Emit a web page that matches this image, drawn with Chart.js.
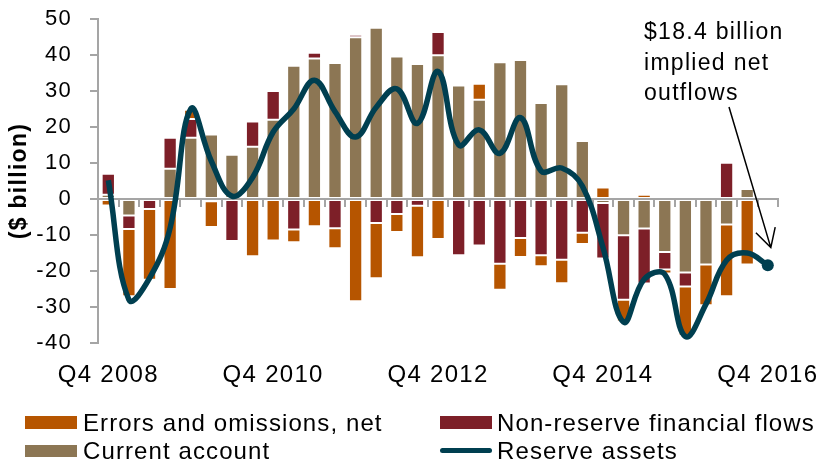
<!DOCTYPE html>
<html>
<head>
<meta charset="utf-8">
<script src="https://cdn.jsdelivr.net/npm/chart.js@4.4.1/dist/chart.umd.min.js"></script>
<style>
	body { margin: 0; background: #fff; }
	#wrap { position: relative; width: 829px; height: 463px; font-family: "Liberation Sans", Arial, sans-serif; }
	#chart { position: absolute; left: 0; top: 0; }
	.key { position: absolute; font-size: 24px; line-height: 1; letter-spacing: 1.1px; color: #000; white-space: nowrap; }
	.sw { position: absolute; }
</style>
</head>
<body>
<div id="wrap">
	<canvas id="chart" width="829" height="463"></canvas>
	<div class="sw" style="left:25px;top:416px;width:52px;height:13px;background:#B65500"></div>
	<div class="key" style="left:83px;top:411px">Errors and omissions, net</div>
	<div class="sw" style="left:440px;top:416px;width:52px;height:13px;background:#7D1F28"></div>
	<div class="key" style="left:497px;top:411px">Non-reserve financial flows</div>
	<div class="sw" style="left:25px;top:445px;width:52px;height:12px;background:#8C7654"></div>
	<div class="key" style="left:83px;top:439px">Current account</div>
	<div class="sw" style="left:440px;top:448px;width:52px;height:5px;border-radius:3px;background:#003F50"></div>
	<div class="key" style="left:497px;top:439px">Reserve assets</div>
</div>
<script>
// DATA ($ billion, quarterly)
const quarters = [
	"Q4 2008", "Q1 2009", "Q2 2009", "Q3 2009", "Q4 2009", "Q1 2010", "Q2 2010", "Q3 2010",
	"Q4 2010", "Q1 2011", "Q2 2011", "Q3 2011", "Q4 2011", "Q1 2012", "Q2 2012", "Q3 2012",
	"Q4 2012", "Q1 2013", "Q2 2013", "Q3 2013", "Q4 2013", "Q1 2014", "Q2 2014", "Q3 2014",
	"Q4 2014", "Q1 2015", "Q2 2015", "Q3 2015", "Q4 2015", "Q1 2016", "Q2 2016", "Q3 2016",
	"Q4 2016",
];
const currentAccount = [1.2, -4.6, 0, 8.4, 17, 17.9, 12.3, 14.5, 22, 37, 39, 37.8, 44.9, 47.6, 39.6, 37.5, 39.9, 31.5, 27.6, 38, 38.6, 26.7, 31.9, 16.1, -1.1, -10.1, -8.2, -14.7, -20.4, -18.2, -7.1, 2.8, null];
const nonReserve = [5.8, -3.7, -2.8, 8.6, 5.2, -0.6, -11.7, 7, 8, -8.5, 1.6, -8.1, 0.7, -6.7, -4.2, -1.9, 6.5, -15.6, -12.9, -18, -10.8, -15.6, -16.9, -9.4, -15.4, -17.9, -15.3, -4.9, -3.9, 0.4, 10.1, 0.3, null];
const errorsOmissions = [-1.8, -18.7, -19.6, -25, 2.6, -7.2, 0.3, -15.9, -11.5, -3.5, -7.6, -5.6, -28.4, -15.3, -5, -14.3, -11.1, -0.6, 4.4, -7.2, -5.3, -3.1, -6.5, -3.1, 3.2, -6, 1.2, -1.1, -13.7, -11.3, -19.9, -18.2, null];
const reserveAssets = [5.2, -28, -22, -8, 25, 10.5, 0.8, 6, 18.6, 25, 33, 24.3, 17.2, 25.5, 30.6, 21, 35.4, 15, 19.2, 12.7, 22.6, 7.8, 8.6, 3.6, -13.4, -34.2, -22.3, -20.9, -38.2, -29.2, -17, -15, -18.4];
const noteLines = ["$18.4 billion", "implied net", "outflows"];

const FONT = '"Liberation Sans", Arial, sans-serif';
const AXIS_GREY = "#A5A5A5";
const lastIdx = reserveAssets.length - 1;

// canvas letter spacing so the text is as wide as in the original
const spacing = {
	id: "spacing",
	beforeUpdate(chart) { chart.ctx.letterSpacing = "1.3px"; },
	beforeDraw(chart) { chart.ctx.letterSpacing = "1.3px"; },
};

// callout text + arrow pointing at the last reserve point
const callout = {
	id: "callout",
	afterDatasetsDraw(chart) {
		const { ctx, scales: { x, y } } = chart;
		ctx.save();
		ctx.fillStyle = "#000";
		ctx.font = `23px ${FONT}`;
		ctx.textBaseline = "alphabetic";
		ctx.textAlign = "left";
		noteLines.forEach((t, i) => ctx.fillText(t, 644, 39 + i * 30.5));
		const tx = x.getPixelForValue(lastIdx) + 3;
		const ty = y.getPixelForValue(-13.5);
		const sx = 729, sy = 107;
		const ang = Math.atan2(ty - sy, tx - sx);
		ctx.strokeStyle = "#000";
		ctx.lineWidth = 1.5;
		ctx.beginPath();
		ctx.moveTo(sx, sy);
		ctx.lineTo(tx, ty);
		ctx.moveTo(tx - 21 * Math.cos(ang - 0.5), ty - 21 * Math.sin(ang - 0.5));
		ctx.lineTo(tx, ty);
		ctx.lineTo(tx - 21 * Math.cos(ang + 0.5), ty - 21 * Math.sin(ang + 0.5));
		ctx.stroke();
		ctx.restore();
	},
};

const barStyle = {
	type: "bar",
	stack: "flows",
	borderColor: "rgba(255,255,255,0.5)",
	borderWidth: 1,
	borderSkipped: false,
	barPercentage: 0.645,
	categoryPercentage: 1,
};

const main = () => {
	const ctx = document.getElementById("chart").getContext("2d");
	new Chart(ctx, {
		data: {
			labels: quarters,
			datasets: [
				{
					type: "line",
					label: "Reserve assets",
					stack: "reserves",
					data: reserveAssets,
					borderColor: "#003F50",
					backgroundColor: "#003F50",
					borderWidth: 5.5,
					tension: 0.4,
					capBezierPoints: false,
					clip: 8,
					pointRadius: (c) => (c.dataIndex === lastIdx ? 6 : 0),
					pointBorderWidth: 0,
					pointBackgroundColor: "#003F50",
				},
				{ ...barStyle, label: "Current account", data: currentAccount, backgroundColor: "#8C7654" },
				{ ...barStyle, label: "Non-reserve financial flows", data: nonReserve, backgroundColor: "#7D1F28" },
				{ ...barStyle, label: "Errors and omissions, net", data: errorsOmissions, backgroundColor: "#B65500" },
			],
		},
		options: {
			responsive: false,
			animation: false,
			layout: { padding: { top: 19, right: 40, left: 0, bottom: 0 } },
			plugins: {
				legend: { display: false },
				tooltip: { enabled: false },
			},
			scales: {
				x: {
					stacked: true,
					offset: true,
					grid: { display: false },
					border: { display: false },
					ticks: {
						autoSkip: false,
						maxRotation: 0,
						padding: 10,
						color: "#000",
						font: { family: FONT, size: 24 },
						callback: (v, i) => (i % 8 === 0 ? quarters[i] : ""),
					},
					afterFit: (s) => { s.height = 120; },
				},
				x2: {
					type: "category",
					offset: true,
					position: { y: 0 },
					ticks: { display: false },
					grid: { offset: true, drawOnChartArea: false, drawTicks: true, tickLength: 7, color: AXIS_GREY, lineWidth: 2 },
					border: { display: true, color: AXIS_GREY, width: 2 },
				},
				y: {
					stacked: true,
					min: -40,
					max: 50,
					grid: { drawOnChartArea: false, drawTicks: true, tickLength: 8, color: AXIS_GREY, lineWidth: 2 },
					border: { color: AXIS_GREY, width: 2 },
					ticks: {
						stepSize: 10,
						padding: 18,
						color: "#000",
						font: { family: FONT, size: 22 },
					},
					title: {
						display: true,
						text: "($ billion)",
						color: "#000",
						font: { family: FONT, size: 23, weight: "bold" },
						padding: { top: 6, bottom: 0 },
					},
					afterFit: (s) => {
						s.width = 98;
						s.paddingTop = 0;
						s.paddingBottom = 0;
					},
				},
			},
		},
		plugins: [spacing, callout],
	});
};

main();
</script>
</body>
</html>
